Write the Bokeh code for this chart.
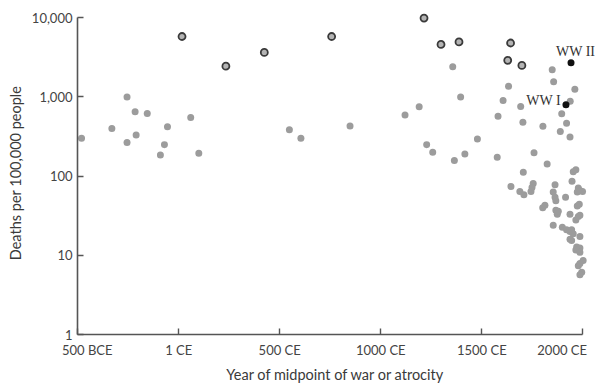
from bokeh.plotting import figure
from bokeh.models import Range1d, FixedTicker, NumeralTickFormatter, ColumnDataSource
from bokeh.core.properties import value
from bokeh.embed import file_html
from bokeh.resources import INLINE

# --- data (year of midpoint, deaths per 100,000 people) ---
gray_year = [-480, -330, -255, -215, -255, -210, -155, -55, -70, -90, 60, 100,
             548, 605, 848, 1120, 1190, 1227, 1257, 1356, 1364, 1395, 1416, 1478,
             1576, 1580, 1605, 1632, 1692, 1703, 1802, 1848, 1855, 1960, 1937, 1895,
             1919, 1888, 1936, 1758, 1823, 1705, 1952, 1965, 1644, 1688, 1708, 1743,
             1754, 1748, 1862, 1853, 1862, 1866, 1914, 1946, 1977, 1985, 1998, 1972,
             1801, 1812, 1866, 1873, 1878, 1936, 1972, 1982, 1965, 1977, 1985, 1853,
             1898, 1919, 1936, 1944, 1952, 1985, 1936, 1944, 1969, 1977, 1985, 1965,
             1985, 2001, 1977, 1985, 1994, 1985]
gray_rate = [300, 400, 1000, 650, 265, 330, 620, 420, 250, 185, 550, 195,
             385, 300, 430, 590, 750, 250, 200, 2400, 157, 1000, 190, 295,
             173, 570, 900, 1365, 755, 480, 427, 2200, 1560, 1250, 880, 615,
             465, 365, 312, 197, 142, 112, 114, 120, 74, 64, 58, 64,
             81, 72, 78, 63, 54, 49, 54, 86, 71, 66, 64, 63,
             40, 43, 37, 33, 36, 33, 42, 44, 28, 31, 32, 24,
             22.6, 21, 20, 21, 18.7, 17.3, 16, 15.4, 12.7, 11.7, 12.4, 11.7,
             10.9, 8.6, 7.4, 7.9, 6.1, 5.7]

outlined_year = [17, 234, 424, 757, 1214, 1298, 1387, 1642, 1628, 1698]
outlined_rate = [5800, 2450, 3650, 5800, 9900, 4600, 4950, 4800, 2900, 2500]

ww_year = [1941, 1916]
ww_rate = [2700, 800]
ww_label = ["WW II", "WW I"]

x_ticks = [-500, 1, 500, 1000, 1500, 2000]
x_tick_labels = ["\u2003\u2003500 BCE", "1 CE", "500 CE", "1000 CE", "1500 CE",
                 "2000 CE\u2003\u2003"]
y_ticks = [1, 10, 100, 1000, 10000]

p = figure(width=606, height=390,
           x_range=Range1d(-500, 2072), y_range=Range1d(1, 12000),
           y_axis_type="log", output_backend="svg", toolbar_location=None,
           min_border_left=77, min_border_right=9, min_border_top=11,
           min_border_bottom=56)
p.background_fill_color = "white"
p.border_fill_color = "white"
p.outline_line_color = None
p.grid.visible = False

FONT = "Lato"
for ax in (p.xaxis[0], p.yaxis[0]):
    ax.axis_line_color = "#555555"
    ax.axis_line_width = 1.6
    ax.major_tick_line_color = "#555555"
    ax.major_tick_line_width = 1.4
    ax.major_tick_in = 6
    ax.major_tick_out = 0
    ax.minor_tick_line_color = None
    ax.major_label_text_font = FONT
    ax.major_label_text_font_size = "13px"
    ax.major_label_text_color = "#444444"
    ax.axis_label_text_font = FONT
    ax.axis_label_text_font_size = "14.5px"
    ax.axis_label_text_font_style = "normal"
    ax.axis_label_text_color = "#3a3a3a"

p.xaxis.ticker = FixedTicker(ticks=x_ticks)
p.xaxis.major_label_overrides = {t: s for t, s in zip(x_ticks, x_tick_labels)}
p.xaxis.bounds = (-500, 2000)
p.xaxis.major_label_standoff = 7
p.xaxis.axis_label = "Year of  midpoint of war or atrocity"
p.xaxis.axis_label_standoff = 5

p.yaxis.ticker = FixedTicker(ticks=y_ticks)
p.yaxis.formatter = NumeralTickFormatter(format="0,0")
p.yaxis.bounds = (1, 10000)
p.yaxis.major_label_standoff = 5
p.yaxis.axis_label = "Deaths per 100,000 people"
p.yaxis.axis_label_standoff = 5

p.scatter(gray_year, gray_rate, size=7, fill_color="#9c9c9c", line_color=None)
p.scatter(outlined_year, outlined_rate, size=7, fill_color="#b4b4b4",
          line_color="#3a3a3a", line_width=1.8)

ww = ColumnDataSource(dict(x=ww_year, y=ww_rate, label=ww_label))
p.scatter("x", "y", source=ww, size=7, fill_color="#111111", line_color=None)

p.text(x=[ww_year[0]], y=[ww_rate[0]], text=[ww_label[0]], x_offset=-15, y_offset=-11,
       text_align="left", text_baseline="middle", text_font=value("Liberation Serif"),
       text_font_size="14px", text_color="#333333")
p.text(x=[ww_year[1]], y=[ww_rate[1]], text=[ww_label[1]], x_offset=-5, y_offset=-4,
       text_align="right", text_baseline="middle", text_font=value("Liberation Serif"),
       text_font_size="14px", text_color="#333333")

open("out.html", "w").write(file_html(p, INLINE))
